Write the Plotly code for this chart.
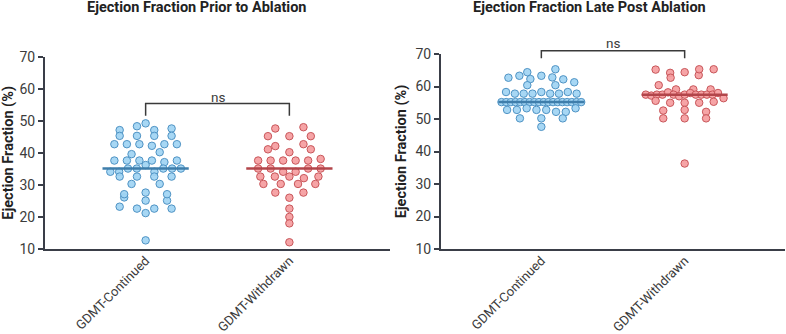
import numpy as np
import plotly.graph_objects as go

# ---------------- data ----------------
categories = ["GDMT-Continued", "GDMT-Withdrawn"]
panel_titles = ["Ejection Fraction Prior to Ablation", "Ejection Fraction Late Post Ablation"]
y_title = "Ejection Fraction (%)"
y_ticks = [10, 20, 30, 40, 50, 60, 70]
sig_labels = ["ns", "ns"]

prior_continued = [
    47.1, 48.3, 49.2, 47.1, 47.6,
    45.3, 45.3, 45.3, 45.3,
    42.7, 42.7, 42.7, 42.2, 42.7, 42.7,
    39.6, 40.2,
    37.6, 37.6, 37.6, 37.6, 37.1, 37.6,
    34.1, 34.1, 35.1, 35.1, 36.2, 34.1, 35.1, 35.1, 35.1,
    32.6, 32.6, 32.6, 32.6,
    30.3, 30.3,
    26.1, 25.1, 27.1, 27.6, 25.1, 27.1,
    23.2, 22.6, 22.6, 22.6,
    21.2,
    12.7,
]
prior_withdrawn = [
    47.6, 48.0,
    45.2, 45.2, 45.2,
    42.1, 42.7,
    41.1, 40.2, 41.1,
    37.6, 37.6, 37.6, 37.6, 37.6, 38.1,
    35.1, 35.1, 34.1, 34.1, 35.1, 35.1,
    32.6, 32.6, 32.6, 32.1, 32.6,
    30.3, 30.3, 30.3, 30.3,
    27.6, 27.6,
    26.0, 22.6, 20.0, 18.0, 12.1,
]
late_continued = [
    62.7, 63.3, 62.3, 63.3, 64.4, 62.8, 65.3, 62.2,
    60.4, 61.3, 60.4,
    58.3, 57.8, 57.8, 57.8, 58.3, 57.8, 57.8, 58.3, 57.8,
    55.2, 55.2, 55.2, 55.2, 55.2, 55.2, 55.2, 55.2, 55.2,
    55.2, 55.2, 55.2, 55.2, 55.2, 55.2, 55.2, 55.2, 55.2,
    52.8, 52.8, 53.3, 52.8, 52.8, 52.2, 52.2, 53.3,
    50.2, 50.2, 50.2,
    47.6,
]
late_withdrawn = [
    65.2, 64.2, 64.4, 62.7, 63.5, 65.3, 65.3,
    60.4, 59.1, 59.1, 59.1,
    57.5, 57.2, 57.5, 57.5, 58.2, 57.5, 57.0, 57.5, 58.0, 57.5, 57.5, 57.5, 57.5, 58.0,
    55.6, 56.4, 55.0, 55.0, 55.0, 55.3,
    52.6, 52.8, 52.2,
    50.2, 50.2, 50.2,
    36.3,
]

panels = [[prior_continued, prior_withdrawn], [late_continued, late_withdrawn]]

# ---------------- layout / style ----------------
W, H = 786, 334
x_px = [(45, 390), (441, 785)]
y_px = [(56.7, 249), (54, 249)]
x_range = [-0.7, 1.7]
y_range = [10, 70]

fill_colors = ["rgba(160,212,243,0.92)", "rgba(245,156,158,0.92)"]
edge_colors = ["#4f93c4", "#c8565a"]
median_colors = ["#3f7eab", "#b2454a"]
axis_color = "#3a3e48"
text_color = "#3c3c3c"
FONT = "Roboto"

# bracket levels per panel: (end of legs, top, label)
brackets = [(51.6, 55.4, 57.5), (68.7, 71.0, 73.3)]


def swarm_offsets(values, px_per_unit, row_step=2.5, spread_px=90.0, k=1.2):
    v = np.asarray(values, dtype=float)
    keys = np.floor(v / row_step + 0.5)
    offs = np.zeros(len(v))
    for key in np.unique(keys):
        idx = np.where(keys == key)[0]
        n = len(idx)
        sp = spread_px / (n + k)
        for j, i in enumerate(idx):
            offs[i] = (j - (n - 1) / 2.0) * sp / px_per_unit
    return offs


def dx(c):
    return (c - x_range[0]) / (x_range[1] - x_range[0])


def dy(v):
    return (v - y_range[0]) / (y_range[1] - y_range[0])


fig = go.Figure()
shapes = []
annotations = []

for p, groups in enumerate(panels):
    xa = "x" if p == 0 else "x2"
    ya = "y" if p == 0 else "y2"
    px_per_unit = (x_px[p][1] - x_px[p][0]) / (x_range[1] - x_range[0])
    for g, vals in enumerate(groups):
        offs = swarm_offsets(vals, px_per_unit)
        fig.add_trace(go.Scatter(
            x=g + offs, y=vals, mode="markers", xaxis=xa, yaxis=ya,
            marker=dict(size=7.5, color=fill_colors[g],
                        line=dict(color=edge_colors[g], width=1)),
            cliponaxis=False, showlegend=False, hoverinfo="y",
        ))
        med = float(np.median(vals))
        fig.add_trace(go.Scatter(
            x=[g - 0.3, g + 0.3], y=[med, med], mode="lines", xaxis=xa, yaxis=ya,
            line=dict(color=median_colors[g], width=2.5),
            showlegend=False, hoverinfo="skip",
        ))

    # significance bracket (domain coordinates so it is not clipped)
    leg, top, lab = brackets[p]
    xr = xa + " domain"
    yr = ya + " domain"
    pts = [(0, leg), (0, top), (1, top), (1, leg)]
    path = "M " + " L ".join(f"{dx(c):.4f},{dy(v):.4f}" for c, v in pts)
    shapes.append(dict(type="path", path=path, xref=xr, yref=yr,
                       line=dict(color="#3a3a3a", width=1.5)))
    annotations.append(dict(text=sig_labels[p], x=0.5, y=dy(lab), xref=xa, yref=yr,
                            showarrow=False, font=dict(family=FONT, size=13.5, color=text_color),
                            xanchor="center", yanchor="middle"))
    annotations.append(dict(text="<b>" + panel_titles[p] + "</b>", x=0.25 + 0.5 * p, y=1 - 7.5 / H,
                            xref="paper", yref="paper", showarrow=False,
                            font=dict(family=FONT, size=14.5, color="#222222"),
                            xanchor="center", yanchor="middle"))

axis_common_x = dict(range=x_range, tickmode="array", tickvals=[0, 1], ticktext=categories,
                     tickangle=-45, ticks="", showline=True, linecolor=axis_color, linewidth=2,
                     showgrid=False, zeroline=False, automargin=False, ticklabelstandoff=-3,
                     tickfont=dict(family=FONT, size=13, color=text_color))
axis_common_y = dict(range=y_range, tickmode="array", tickvals=y_ticks, ticks="outside",
                     ticklen=5, tickwidth=1.5, tickcolor=axis_color, showline=True,
                     linecolor=axis_color, linewidth=2, showgrid=False, zeroline=False,
                     automargin=False, tickfont=dict(family=FONT, size=14, color=text_color),
                     title=dict(text="<b>" + y_title + "</b>", standoff=5,
                                font=dict(family=FONT, size=14.5, color="#222222")))

fig.update_layout(
    width=W, height=H, margin=dict(l=0, r=0, t=0, b=0),
    paper_bgcolor="white", plot_bgcolor="white",
    xaxis=dict(domain=[x_px[0][0] / W, x_px[0][1] / W], anchor="y", **axis_common_x),
    xaxis2=dict(domain=[x_px[1][0] / W, x_px[1][1] / W], anchor="y2", **axis_common_x),
    yaxis=dict(domain=[1 - y_px[0][1] / H, 1 - y_px[0][0] / H], anchor="x", **axis_common_y),
    yaxis2=dict(domain=[1 - y_px[1][1] / H, 1 - y_px[1][0] / H], anchor="x2", **axis_common_y),
    shapes=shapes, annotations=annotations,
)

fig.write_html("out.html")
